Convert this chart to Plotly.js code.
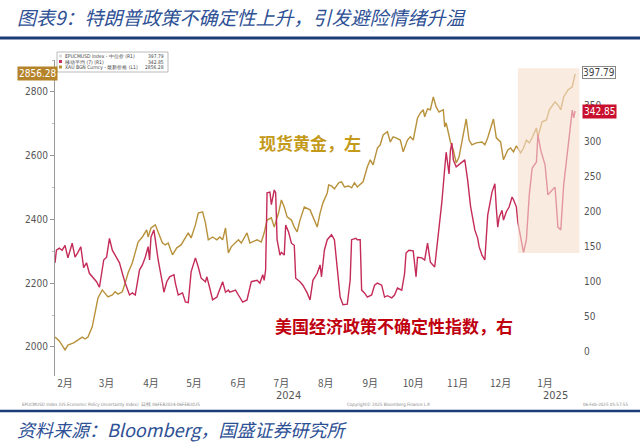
<!DOCTYPE html>
<html><head><meta charset="utf-8">
<script src="https://cdn.plot.ly/plotly-3.0.1.min.js"></script>
<style>html,body{margin:0;padding:0;background:#fff}#chart{width:640px;height:442px}</style>
</head><body><div id="chart"></div>
<script>
// ---- data ----
const goldDates = [
 '2024-02-08','2024-02-11','2024-02-15','2024-02-17','2024-02-21','2024-02-24','2024-02-27','2024-02-29',
 '2024-03-02','2024-03-05','2024-03-07','2024-03-09','2024-03-12','2024-03-14','2024-03-16','2024-03-19','2024-03-21','2024-03-23','2024-03-26','2024-03-28','2024-03-30',
 '2024-04-02','2024-04-04','2024-04-06','2024-04-09','2024-04-12','2024-04-13','2024-04-15','2024-04-18','2024-04-20','2024-04-23','2024-04-25','2024-04-27','2024-04-30',
 '2024-05-03','2024-05-06','2024-05-08','2024-05-11','2024-05-13','2024-05-16','2024-05-18','2024-05-21','2024-05-23','2024-05-25','2024-05-28','2024-05-31',
 '2024-06-02','2024-06-04','2024-06-06','2024-06-08','2024-06-10','2024-06-13','2024-06-15','2024-06-17','2024-06-21','2024-06-23','2024-06-25','2024-06-28',
 '2024-07-01','2024-07-03','2024-07-05','2024-07-08','2024-07-10','2024-07-13','2024-07-15','2024-07-17','2024-07-19','2024-07-22','2024-07-24','2024-07-26','2024-07-28','2024-07-31',
 '2024-08-04','2024-08-06','2024-08-09','2024-08-11','2024-08-13','2024-08-16','2024-08-17','2024-08-19','2024-08-21','2024-08-24','2024-08-26','2024-08-28','2024-08-31',
 '2024-09-02','2024-09-04','2024-09-06','2024-09-10','2024-09-13','2024-09-15','2024-09-17','2024-09-20','2024-09-22','2024-09-24','2024-09-27','2024-09-29',
 '2024-10-01','2024-10-03','2024-10-06','2024-10-08','2024-10-11','2024-10-13','2024-10-15','2024-10-18','2024-10-20','2024-10-22','2024-10-23','2024-10-25','2024-10-27','2024-10-29','2024-10-31',
 '2024-11-02','2024-11-05','2024-11-06','2024-11-07','2024-11-10','2024-11-12','2024-11-14','2024-11-16','2024-11-18','2024-11-21','2024-11-23','2024-11-25','2024-11-28',
 '2024-12-02','2024-12-04','2024-12-06','2024-12-10','2024-12-12','2024-12-15','2024-12-17','2024-12-20','2024-12-22','2024-12-24','2024-12-26','2024-12-29','2024-12-31',
 '2025-01-02','2025-01-04','2025-01-06','2025-01-09','2025-01-10','2025-01-13','2025-01-16','2025-01-18','2025-01-22','2025-01-24','2025-01-26','2025-01-28','2025-01-31',
 '2025-02-03','2025-02-05'];
const goldPrice = [
 2031,2019,1991,2006,2013,2022,2031,2025,
 2031,2063,2107,2154,2179,2169,2157,2163,2173,2166,2173,2201,2232,
 2264,2295,2329,2345,2367,2345,2373,2383,2361,2326,2320,2326,2289,
 2311,2320,2336,2358,2342,2383,2420,2424,2389,2336,2345,2336,
 2345,2336,2373,2295,2314,2326,2336,2326,2358,2326,2329,2336,
 2329,2358,2398,2405,2376,2420,2461,2439,2408,2398,2376,2361,2398,2439,
 2430,2408,2376,2420,2452,2483,2508,2505,2496,2515,2518,2502,2505,
 2499,2515,2502,2518,2565,2587,2571,2624,2634,2665,2675,2643,
 2659,2656,2649,2612,2649,2659,2649,2718,2734,2744,2722,2747,2744,2784,2753,
 2737,2744,2690,2703,2643,2618,2577,2596,2649,2715,2649,2634,2640,
 2643,2634,2656,2715,2656,2643,2587,2618,2624,2612,2631,2609,2624,
 2649,2640,2656,2687,2659,2706,2712,2744,2769,2759,2744,2784,2806,
 2816,2856.28];

const epuDates = [
 '2024-02-08','2024-02-09','2024-02-11','2024-02-13','2024-02-15','2024-02-17','2024-02-20','2024-02-22','2024-02-24','2024-02-26','2024-02-28',
 '2024-03-01','2024-03-03','2024-03-05','2024-03-08','2024-03-10','2024-03-13','2024-03-15','2024-03-17','2024-03-19','2024-03-22','2024-03-24','2024-03-26','2024-03-28','2024-03-31',
 '2024-04-02','2024-04-04','2024-04-07','2024-04-09','2024-04-11','2024-04-13','2024-04-14','2024-04-15','2024-04-17','2024-04-18','2024-04-20','2024-04-23','2024-04-24','2024-04-26','2024-04-28',
 '2024-05-01','2024-05-02','2024-05-04','2024-05-07','2024-05-09','2024-05-11','2024-05-13','2024-05-16','2024-05-18','2024-05-20','2024-05-23','2024-05-24','2024-05-26','2024-05-28','2024-05-31',
 '2024-06-02','2024-06-04','2024-06-06','2024-06-08','2024-06-09','2024-06-13','2024-06-15','2024-06-18','2024-06-21','2024-06-24','2024-06-28','2024-06-30',
 '2024-07-02','2024-07-03','2024-07-04','2024-07-05','2024-07-07','2024-07-08','2024-07-10','2024-07-11','2024-07-12','2024-07-14','2024-07-15','2024-07-17','2024-07-18','2024-07-20','2024-07-22','2024-07-24','2024-07-25','2024-07-28','2024-07-30',
 '2024-08-02','2024-08-04','2024-08-06','2024-08-09','2024-08-11','2024-08-12','2024-08-14','2024-08-16','2024-08-19','2024-08-21','2024-08-23','2024-08-25','2024-08-27','2024-08-30',
 '2024-09-01','2024-09-02','2024-09-05','2024-09-06','2024-09-08','2024-09-09','2024-09-11','2024-09-13','2024-09-16','2024-09-18','2024-09-20','2024-09-23','2024-09-25','2024-09-27','2024-09-30',
 '2024-10-02','2024-10-04','2024-10-07','2024-10-09','2024-10-10','2024-10-12','2024-10-15','2024-10-17','2024-10-18','2024-10-21','2024-10-23','2024-10-25','2024-10-27','2024-10-30',
 '2024-11-01','2024-11-04','2024-11-06','2024-11-07','2024-11-09','2024-11-10','2024-11-11','2024-11-12','2024-11-14','2024-11-16','2024-11-18','2024-11-20','2024-11-22','2024-11-24','2024-11-27','2024-11-29','2024-11-30',
 '2024-12-02','2024-12-04','2024-12-06','2024-12-09','2024-12-11','2024-12-12','2024-12-13','2024-12-14','2024-12-16','2024-12-17','2024-12-19','2024-12-21','2024-12-23','2024-12-24','2024-12-26','2024-12-27','2024-12-30','2024-12-31',
 '2025-01-02','2025-01-04','2025-01-06','2025-01-09','2025-01-10','2025-01-12','2025-01-15','2025-01-17','2025-01-20','2025-01-22','2025-01-24','2025-01-26','2025-01-28','2025-01-31',
 '2025-02-03','2025-02-04','2025-02-05'];
const epuMA7 = [
 126,144,147,144,151,133,154,134,141,149,119,
 126,111,106,99,91,130,134,161,144,134,126,111,97,80,
 83,80,116,123,134,149,130,163,173,159,130,97,84,99,106,
 109,97,80,83,70,69,113,133,120,104,99,106,90,73,77,
 87,99,84,87,84,87,80,70,73,99,101,97,
 109,101,116,226,227,209,230,226,159,137,141,137,180,170,154,151,104,99,94,
 83,73,101,111,123,106,144,159,166,159,120,77,66,67,
 101,159,161,159,159,87,83,77,80,94,97,94,77,79,76,
 80,90,87,111,140,144,143,106,134,133,130,154,127,120,
 154,213,261,284,253,287,297,273,263,266,270,273,244,207,173,161,149,
 137,130,194,227,239,204,177,191,201,187,199,206,220,216,206,184,151,141,
 159,223,261,270,309,287,266,223,230,234,177,173,237,294,
 344,333,342.85];

const monthTickDates = ['2024-02-15','2024-03-15','2024-04-15','2024-05-15','2024-06-15','2024-07-15',
  '2024-08-15','2024-09-15','2024-10-15','2024-11-15','2024-12-15','2025-01-15'];
const monthTickLabels = ['2月','3月','4月','5月','6月','7月','8月','9月','10月','11月','12月','1月'];
const yearLabels = ['2024','2025'];
const yearLabelDates = ['2024-07-20','2025-01-22'];
const leftTicks = [2000,2200,2400,2600,2800];
const rightTicks = [0,50,100,150,200,250,300,350];
const goldLast = 2856.28;
const epuLast = 342.85;
const epuRawLast = 397.79;
const shadeStart = '2024-12-27', shadeEnd = '2025-02-08';
const shadeLow = 140, shadeHigh = 404;

// ---- layout helpers (pixel -> paper) ----
const L = 55, R = 583, T = 60, B = 376;
const px = x => (x - L) / (R - L);
const py = y => (B - y) / (B - T);

const GOLD = '#b8913b', RED = '#c42b58', BLUE = '#2e5095', NAVY = '#1c3c78';
const NARROW = '"Liberation Sans Narrow","Arial Narrow","DejaVu Sans Condensed",sans-serif';
const CJK = '"Noto Sans CJK SC","Noto Sans",sans-serif';

const traces = [
  {x: goldDates, y: goldPrice, type: 'scatter', mode: 'lines', yaxis: 'y',
   line: {color: GOLD, width: 1.4}, hoverinfo: 'skip'},
  {x: epuDates, y: epuMA7, type: 'scatter', mode: 'lines', yaxis: 'y2',
   line: {color: RED, width: 1.4}, hoverinfo: 'skip'}
];

function txt(o) { return Object.assign({showarrow: false, xanchor: 'center', yanchor: 'middle'}, o); }

const ann = [
  txt({xref: 'paper', yref: 'paper', x: px(15), y: py(17), xanchor: 'left',
   text: '图表9：特朗普政策不确定性上升，引发避险情绪升温', font: {family: CJK, size: 19, color: BLUE, style: 'italic'}}),
  txt({xref: 'paper', yref: 'paper', x: px(15), y: py(429), xanchor: 'left',
   text: '资料来源：Bloomberg，国盛证券研究所', font: {family: CJK, size: 18, color: BLUE, style: 'italic'}}),
  txt({xref: 'paper', yref: 'paper', x: px(310), y: py(142),
   text: '<b>现货黄金，左</b>', font: {family: CJK, size: 17, color: '#c49a1a'}}),
  txt({xref: 'paper', yref: 'paper', x: px(394), y: py(325),
   text: '<b>美国经济政策不确定性指数，右</b>', font: {family: CJK, size: 17, color: '#c0000f'}}),
  txt({xref: 'paper', yref: 'y', x: px(37), y: goldLast, text: String(goldLast),
   bgcolor: '#b5832a', borderpad: 1, font: {family: NARROW, size: 10, color: '#fff'}}),
  txt({xref: 'paper', yref: 'y2', x: px(599), y: epuRawLast, text: String(epuRawLast),
   bgcolor: '#fff', bordercolor: '#888', borderwidth: 1, borderpad: 0, font: {family: NARROW, size: 10, color: '#444'}}),
  txt({xref: 'paper', yref: 'y2', x: px(599), y: epuLast, text: String(epuLast),
   bgcolor: '#c8102e', borderpad: 1, font: {family: NARROW, size: 10, color: '#fff'}}),
  // legend text
  txt({xref: 'paper', yref: 'paper', x: px(63), y: py(56), xanchor: 'left',
   text: 'EPUCMUSD Index - 中位价 (R1)', font: {family: NARROW, size: 5, color: '#444'}}),
  txt({xref: 'paper', yref: 'paper', x: px(166), y: py(56), xanchor: 'right',
   text: String(epuRawLast), font: {family: NARROW, size: 5, color: '#444'}}),
  txt({xref: 'paper', yref: 'paper', x: px(63), y: py(61.5), xanchor: 'left',
   text: '移动平均 (7) (R1)', font: {family: NARROW, size: 5, color: '#444'}}),
  txt({xref: 'paper', yref: 'paper', x: px(166), y: py(61.5), xanchor: 'right',
   text: String(epuLast), font: {family: NARROW, size: 5, color: '#444'}}),
  txt({xref: 'paper', yref: 'paper', x: px(63), y: py(67), xanchor: 'left',
   text: 'XAU BGN Curncy - 最新价格 (L1)', font: {family: NARROW, size: 5, color: '#444'}}),
  txt({xref: 'paper', yref: 'paper', x: px(166), y: py(67), xanchor: 'right',
   text: String(goldLast), font: {family: NARROW, size: 5, color: '#444'}}),
  // footer small print
  txt({xref: 'paper', yref: 'paper', x: px(20), y: py(404), xanchor: 'left',
   text: 'EPUCMUSD Index (US Economic Policy Uncertainty Index)  日线 06FEB2024-06FEB2025', font: {family: NARROW, size: 4.5, color: '#888'}}),
  txt({xref: 'paper', yref: 'paper', x: px(388), y: py(404),
   text: 'Copyright© 2025 Bloomberg Finance L.P.', font: {family: NARROW, size: 4.5, color: '#888'}}),
  txt({xref: 'paper', yref: 'paper', x: px(630), y: py(404), xanchor: 'right',
   text: '06-Feb-2025 05:57:55', font: {family: NARROW, size: 4.5, color: '#888'}})
];
yearLabels.forEach((t, i) => ann.push(txt({xref: 'x', yref: 'paper', x: yearLabelDates[i], y: py(396),
  text: t, font: {family: NARROW, size: 11, color: '#555'}})));

const shapes = [
  {type: 'rect', xref: 'x', yref: 'y2', x0: shadeStart, x1: shadeEnd, y0: shadeLow, y1: shadeHigh,
   fillcolor: 'rgb(247,222,205)', opacity: 0.6, line: {width: 0}, layer: 'above'},
  {type: 'line', xref: 'paper', yref: 'paper', x0: px(0), x1: px(640), y0: py(38), y1: py(38), line: {color: NAVY, width: 3}},
  {type: 'line', xref: 'paper', yref: 'paper', x0: px(0), x1: px(640), y0: py(411), y1: py(411), line: {color: NAVY, width: 2.5}},
  {type: 'rect', xref: 'paper', yref: 'paper', x0: px(57), x1: px(168), y0: py(72), y1: py(52),
   fillcolor: '#fff', line: {color: '#aaa', width: 0.8}},
  {type: 'rect', xref: 'paper', yref: 'paper', x0: px(59), x1: px(62), y0: py(57.5), y1: py(54.5), fillcolor: '#ddd', line: {width: 0}},
  {type: 'rect', xref: 'paper', yref: 'paper', x0: px(59), x1: px(62), y0: py(63), y1: py(60), fillcolor: RED, line: {width: 0}},
  {type: 'rect', xref: 'paper', yref: 'paper', x0: px(59), x1: px(62), y0: py(68.5), y1: py(65.5), fillcolor: GOLD, line: {width: 0}}
];

const layout = {
  width: 640, height: 442,
  margin: {l: L, r: 640 - R, t: T, b: 442 - B, pad: 0},
  paper_bgcolor: '#fff', plot_bgcolor: '#fff',
  showlegend: false,
  xaxis: {type: 'date', range: ['2024-02-08', '2025-02-10 12:00'], tickmode: 'array',
    tickvals: monthTickDates, ticktext: monthTickLabels, showgrid: false, zeroline: false,
    showline: false, ticks: '', tickfont: {family: CJK, size: 10, color: '#555'}},
  yaxis: {range: [1909, 2900], tickmode: 'array', tickvals: leftTicks, showgrid: false, zeroline: false,
    showline: true, linecolor: '#999', linewidth: 1, ticks: 'outside', ticklen: 4, tickcolor: '#999',
    minor: {ticks: 'outside', ticklen: 2, dtick: 100, tickcolor: '#bbb'},
    tickfont: {family: NARROW, size: 10, color: '#555'}},
  yaxis2: {overlaying: 'y', side: 'right', range: [-35.7, 415.7], tickmode: 'array', tickvals: rightTicks,
    showgrid: false, zeroline: false, showline: false, ticks: '',
    tickfont: {family: NARROW, size: 10, color: '#555'}},
  annotations: ann,
  shapes: shapes
};

Plotly.newPlot('chart', traces, layout, {staticPlot: true, displayModeBar: false});
</script>
</body></html>
